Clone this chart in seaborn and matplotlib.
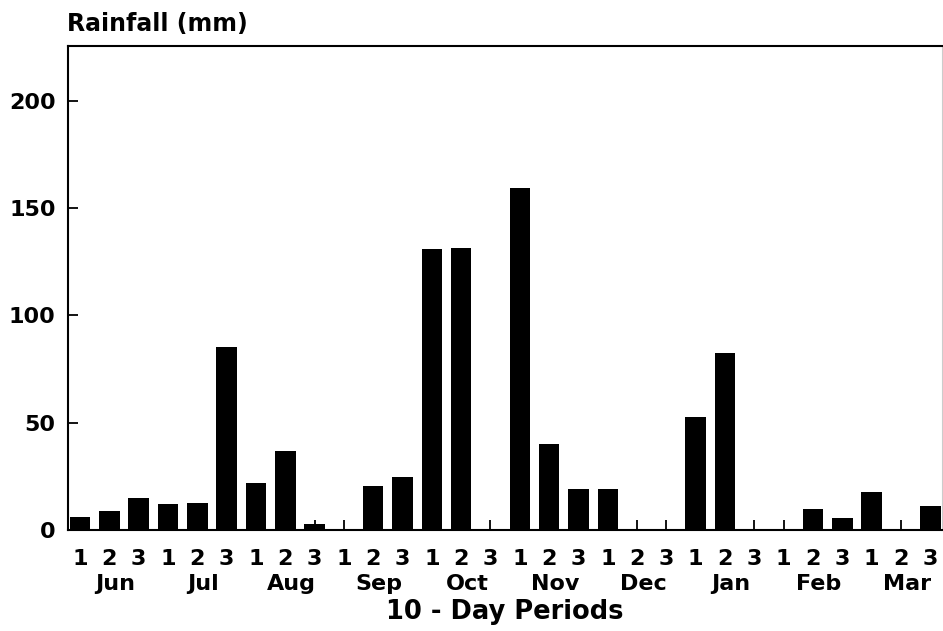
import matplotlib
matplotlib.use("Agg")
import matplotlib.pyplot as plt
import seaborn as sns
import pandas as pd

months = ["Jun", "Jul", "Aug", "Sep", "Oct", "Nov", "Dec", "Jan", "Feb", "Mar"]
dekads = ["1", "2", "3"]
rainfall = [6, 9, 15,
            12, 12.5, 85,
            22, 37, 3,
            0, 20.5, 24.5,
            131, 131.5, 0,
            159.5, 40, 19,
            19, 0, 0,
            52.5, 82.5, 0,
            0, 10, 5.5,
            17.5, 0, 11]
y_ticks = [0, 50, 100, 150, 200]

periods = [f"{m}-{d}" for m in months for d in dekads]
df = pd.DataFrame({"period": periods, "rain": rainfall})

sns.set_theme(style="white")
plt.rcParams["font.family"] = ["DejaVu Sans"]
plt.rcParams["font.weight"] = "bold"
plt.rcParams["text.color"] = "black"
plt.rcParams["xtick.color"] = "black"
plt.rcParams["ytick.color"] = "black"

FS = 16

fig = plt.figure(figsize=(9.43, 6.31), dpi=100)
ax = fig.add_axes([68 / 943, 101 / 631, 874 / 943, 484 / 631])

sns.barplot(data=df, x="period", y="rain", order=periods, color="black",
            saturation=1, width=0.7, ax=ax, linewidth=0)

ax.set_xlim(-0.41, 29.4)
ax.set_ylim(0, 225.4)
ax.set_yticks(y_ticks)
ax.set_yticklabels([str(v) for v in y_ticks], fontsize=FS, fontweight="bold")
ax.set_xticks(range(len(periods)))
ax.set_xticklabels(dekads * len(months), fontsize=FS, fontweight="bold")

ax.tick_params(axis="both", direction="in", length=7, width=1.3, color="black",
               labelcolor="black", bottom=True, left=True)
ax.tick_params(axis="x", pad=14)
ax.tick_params(axis="y", pad=9)

for side in ["left", "bottom", "top"]:
    ax.spines[side].set_visible(True)
    ax.spines[side].set_color("black")
    ax.spines[side].set_linewidth(1.5)
ax.spines["right"].set_visible(True)
ax.spines["right"].set_color("#cccccc")
ax.spines["right"].set_linewidth(0.8)

trans = ax.get_xaxis_transform()
for i, m in enumerate(months):
    ax.text(3 * i + 1.2, -0.111, m, transform=trans, ha="center", va="center",
            fontsize=FS, fontweight="bold", color="black")

ax.set_xlabel("")
ax.set_ylabel("")
ax.text(0.5, -0.170, "10 - Day Periods", transform=ax.transAxes, ha="center",
        va="center", fontsize=18.5, fontweight="bold", color="black")
fig.text(67 / 943, 1 - 23.5 / 631, "Rainfall (mm)", ha="left", va="center",
         fontsize=17, fontweight="bold", color="black")

fig.savefig("out.png", dpi=100)
